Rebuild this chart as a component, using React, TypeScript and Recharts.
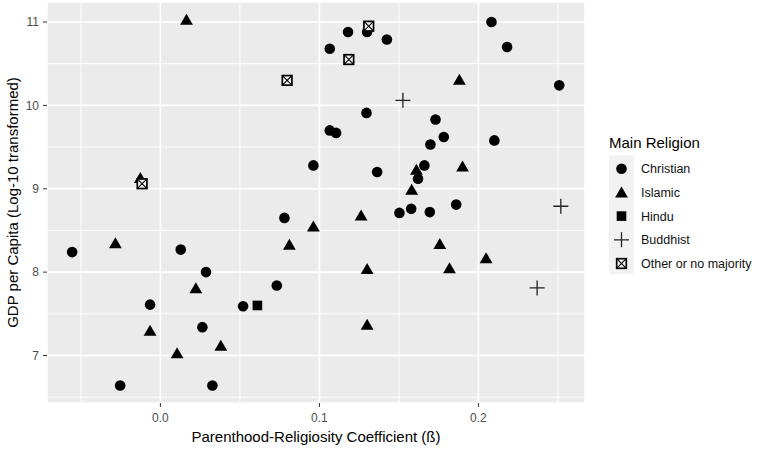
import React from 'react';
import { ScatterChart, Scatter, XAxis, YAxis, CartesianGrid, ReferenceLine } from 'recharts';

const christian = [
  { x: -0.0555, y: 8.24 }, { x: -0.0253, y: 6.64 }, { x: -0.0065, y: 7.61 }, { x: 0.0128, y: 8.27 },
  { x: 0.0264, y: 7.34 }, { x: 0.0287, y: 8.0 }, { x: 0.0327, y: 6.64 }, { x: 0.052, y: 7.59 },
  { x: 0.0732, y: 7.84 }, { x: 0.078, y: 8.65 }, { x: 0.0962, y: 9.28 }, { x: 0.1065, y: 10.68 },
  { x: 0.1065, y: 9.7 }, { x: 0.1105, y: 9.67 }, { x: 0.118, y: 10.88 }, { x: 0.13, y: 10.88 },
  { x: 0.1296, y: 9.91 }, { x: 0.1363, y: 9.2 }, { x: 0.1424, y: 10.79 }, { x: 0.1503, y: 8.71 },
  { x: 0.1577, y: 8.76 }, { x: 0.162, y: 9.12 }, { x: 0.166, y: 9.28 }, { x: 0.1694, y: 8.72 },
  { x: 0.1698, y: 9.53 }, { x: 0.173, y: 9.83 }, { x: 0.1782, y: 9.62 }, { x: 0.186, y: 8.81 },
  { x: 0.2082, y: 11.0 }, { x: 0.21, y: 9.58 }, { x: 0.218, y: 10.7 }, { x: 0.2508, y: 10.24 },
];
const islamic = [
  { x: -0.0283, y: 8.35 }, { x: -0.0126, y: 9.13 }, { x: -0.0065, y: 7.3 }, { x: 0.0105, y: 7.03 },
  { x: 0.0164, y: 11.03 }, { x: 0.0223, y: 7.81 }, { x: 0.038, y: 7.12 }, { x: 0.0811, y: 8.33 },
  { x: 0.0962, y: 8.55 }, { x: 0.1262, y: 8.68 }, { x: 0.13, y: 8.04 }, { x: 0.13, y: 7.37 },
  { x: 0.158, y: 8.99 }, { x: 0.161, y: 9.23 }, { x: 0.1757, y: 8.34 }, { x: 0.1818, y: 8.05 },
  { x: 0.188, y: 10.31 }, { x: 0.19, y: 9.27 }, { x: 0.2048, y: 8.17 },
];
const hindu = [{ x: 0.061, y: 7.6 }];
const buddhist = [{ x: 0.1525, y: 10.06 }, { x: 0.2369, y: 7.81 }, { x: 0.2518, y: 8.79 }];
const other = [{ x: -0.0115, y: 9.06 }, { x: 0.0797, y: 10.3 }, { x: 0.1185, y: 10.55 }, { x: 0.131, y: 10.95 }];

const xTicks = [0, 0.1, 0.2];
const yTicks = [7, 8, 9, 10, 11];
const xMinor = [-0.05, 0.05, 0.15, 0.25];
const yMinor = [6.5, 7.5, 8.5, 9.5, 10.5];
const legendLabels = ['Christian', 'Islamic', 'Hindu', 'Buddhist', 'Other or no majority'];

const FONT = '"Liberation Sans", Arial, sans-serif';

const CircleShape = (p: any) => <circle cx={p.cx} cy={p.cy} r={5.3} fill="#000" />;
const TriangleShape = (p: any) => {
  const { cx, cy } = p;
  return <polygon points={`${cx},${cy - 5.8} ${cx + 6.4},${cy + 5.2} ${cx - 6.4},${cy + 5.2}`} fill="#000" />;
};
const SquareShape = (p: any) => <rect x={p.cx - 4.8} y={p.cy - 4.8} width={9.6} height={9.6} fill="#000" />;
const PlusShape = (p: any) => {
  const { cx, cy } = p;
  return <path d={`M${cx - 7.5},${cy}H${cx + 7.5}M${cx},${cy - 7.5}V${cy + 7.5}`} stroke="#222" strokeWidth={1.3} fill="none" />;
};
const SquareCrossShape = (p: any) => {
  const { cx, cy } = p;
  const h = 4.8;
  return (
    <g>
      <rect x={cx - h} y={cy - h} width={2 * h} height={2 * h} fill="#f2f2f2" stroke="#000" strokeWidth={1.7} />
      <path d={`M${cx - h},${cy - h}L${cx + h},${cy + h}M${cx + h},${cy - h}L${cx - h},${cy + h}`} stroke="#000" strokeWidth={1.1} />
    </g>
  );
};
const legendShapes = [CircleShape, TriangleShape, SquareShape, PlusShape, SquareCrossShape];

const tickStyle = { fill: '#4d4d4d', fontSize: 12, fontFamily: FONT };

export default function App() {
  return (
    <div style={{ position: 'absolute', left: 0, top: 0, width: 764, height: 449, background: '#fff', fontFamily: FONT }}>
      <ScatterChart width={764} height={449} margin={{ top: 2, right: 179, bottom: 0, left: 0 }}>
        <CartesianGrid stroke="#fff" strokeWidth={1.6} fill="#ebebeb" fillOpacity={1} />
        {xMinor.map((v) => (
          <ReferenceLine key={'vx' + v} x={v} stroke="#fff" strokeWidth={0.9} />
        ))}
        {yMinor.map((v) => (
          <ReferenceLine key={'hy' + v} y={v} stroke="#fff" strokeWidth={0.9} />
        ))}
        <XAxis
          type="number"
          dataKey="x"
          domain={[-0.0713, 0.267]}
          allowDataOverflow
          ticks={xTicks}
          tickFormatter={(v: number) => v.toFixed(1)}
          height={46}
          axisLine={false}
          tickLine={{ stroke: '#333' }}
          tickSize={4}
          tickMargin={6}
          tick={tickStyle}
          label={{ value: 'Parenthood-Religiosity Coefficient (ß)', position: 'insideBottom', offset: 7, style: { fill: '#000', fontSize: 15, fontFamily: FONT } }}
        />
        <YAxis
          type="number"
          dataKey="y"
          domain={[6.43, 11.24]}
          allowDataOverflow
          ticks={yTicks}
          width={47}
          axisLine={false}
          tickLine={{ stroke: '#333' }}
          tickSize={4}
          tickMargin={4}
          tick={tickStyle}
          label={{ value: 'GDP per Capita (Log-10 transformed)', angle: -90, position: 'insideLeft', offset: 13, style: { textAnchor: 'middle', fill: '#000', fontSize: 15, fontFamily: FONT } }}
        />
        <Scatter name="Christian" data={christian} shape={CircleShape} isAnimationActive={false} />
        <Scatter name="Islamic" data={islamic} shape={TriangleShape} isAnimationActive={false} />
        <Scatter name="Hindu" data={hindu} shape={SquareShape} isAnimationActive={false} />
        <Scatter name="Buddhist" data={buddhist} shape={PlusShape} isAnimationActive={false} />
        <Scatter name="Other or no majority" data={other} shape={SquareCrossShape} isAnimationActive={false} />
      </ScatterChart>
      <svg width={164} height={160} style={{ position: 'absolute', left: 600, top: 125 }}>
        <text x={9} y={23} fontSize={15} fontFamily={FONT} fill="#000">Main Religion</text>
        <rect x={9} y={30} width={25} height={119} fill="#f2f2f2" />
        {legendLabels.map((lab, i) => {
          const Shape = legendShapes[i];
          const cy = 43.7 + i * 23.7;
          return (
            <g key={lab}>
              <Shape cx={21.5} cy={cy} />
              <text x={41} y={cy + 4.5} fontSize={12.5} fontFamily={FONT} fill="#111">{lab}</text>
            </g>
          );
        })}
      </svg>
    </div>
  );
}
